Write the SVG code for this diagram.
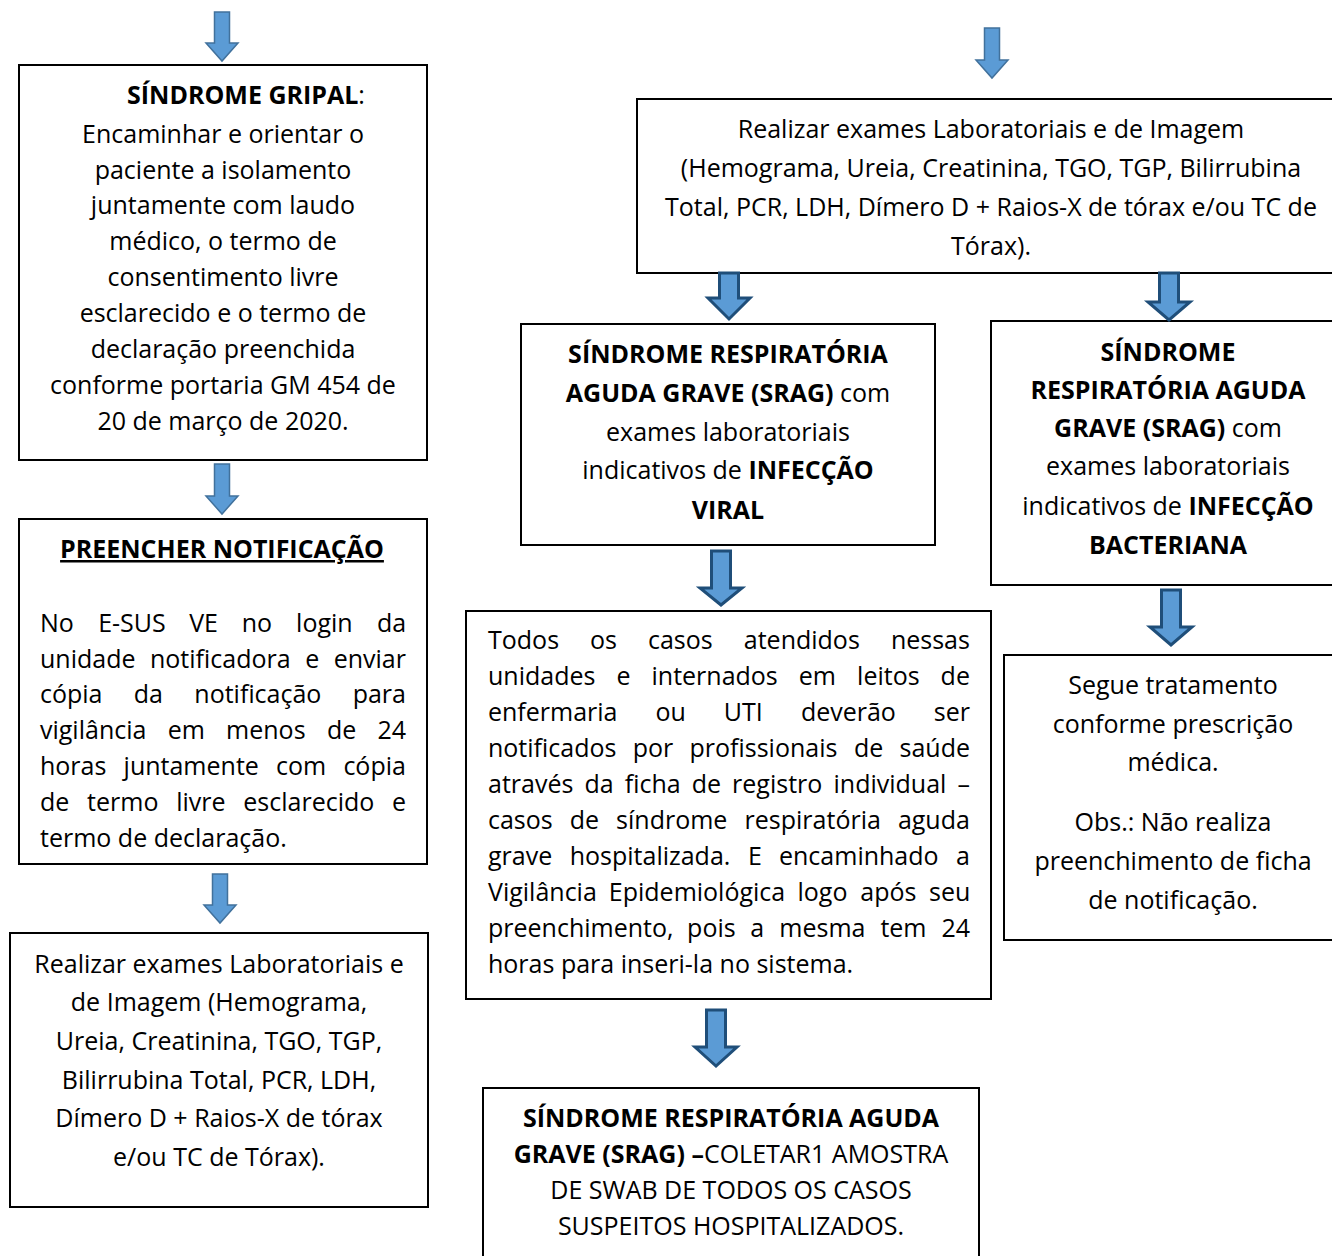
<svg xmlns="http://www.w3.org/2000/svg" width="1332" height="1256" viewBox="0 0 1332 1256">
<style>
text{font-family:"Open Sans","Liberation Sans",sans-serif;font-size:25px;fill:#000}
.c{text-anchor:middle}
.b{font-weight:bold}
.box{fill:#fff;stroke:#000;stroke-width:2}
.al{fill:#5b9bd5;stroke:#41719c;stroke-width:1.5}
.ad{fill:#5b9bd5;stroke:#1f4e79;stroke-width:3;stroke-linejoin:miter}
</style>
<rect width="1332" height="1256" fill="#fff"/>

<g id="n1">
<rect class="box" x="19" y="65" width="408" height="395"/>
<text class="c" x="246" y="104"><tspan class="b">SÍNDROME GRIPAL</tspan>:</text>
<text class="c" x="223" y="143">Encaminhar e orientar o</text>
<text class="c" x="223" y="179">paciente a isolamento</text>
<text class="c" x="223" y="214">juntamente com laudo</text>
<text class="c" x="223" y="250">médico, o termo de</text>
<text class="c" x="223" y="286">consentimento livre</text>
<text class="c" x="223" y="322">esclarecido e o termo de</text>
<text class="c" x="223" y="358">declaração preenchida</text>
<text class="c" x="223" y="394">conforme portaria GM 454 de</text>
<text class="c" x="223" y="430">20 de março de 2020.</text>
</g>

<g id="n2">
<rect class="box" x="19" y="519" width="408" height="345"/>
<text class="c b" x="222" y="558" text-decoration="underline">PREENCHER NOTIFICAÇÃO</text>
<text y="632"><tspan x="40">No</tspan><tspan x="98.2">E-SUS</tspan><tspan x="189.2">VE</tspan><tspan x="241.7">no</tspan><tspan x="296.1">login</tspan><tspan x="376.9">da</tspan></text>
<text y="668"><tspan x="40">unidade</tspan><tspan x="150">notificadora</tspan><tspan x="305.2">e</tspan><tspan x="333.7">enviar</tspan></text>
<text y="703"><tspan x="40">cópia</tspan><tspan x="133.8">da</tspan><tspan x="194.3">notificação</tspan><tspan x="352.7">para</tspan></text>
<text y="739"><tspan x="40">vigilância</tspan><tspan x="167.7">em</tspan><tspan x="226.1">menos</tspan><tspan x="326.9">de</tspan><tspan x="377.4">24</tspan></text>
<text y="775"><tspan x="40">horas</tspan><tspan x="123.6">juntamente</tspan><tspan x="276">com</tspan><tspan x="343.4">cópia</tspan></text>
<text y="811"><tspan x="40">de</tspan><tspan x="87.1">termo</tspan><tspan x="176.2">livre</tspan><tspan x="243.3">esclarecido</tspan><tspan x="392">e</tspan></text>
<text x="40" y="847">termo de declaração.</text>
</g>

<g id="n3">
<rect class="box" x="10" y="933" width="418" height="274"/>
<text class="c" x="219" y="973">Realizar exames Laboratoriais e</text>
<text class="c" x="219" y="1011">de Imagem (Hemograma,</text>
<text class="c" x="219" y="1050">Ureia, Creatinina, TGO, TGP,</text>
<text class="c" x="219" y="1089">Bilirrubina Total, PCR, LDH,</text>
<text class="c" x="219" y="1127">Dímero D + Raios-X de tórax</text>
<text class="c" x="219" y="1166">e/ou TC de Tórax).</text>
</g>

<g id="n4">
<rect class="box" x="637" y="99" width="705" height="174"/>
<text class="c" x="991" y="138">Realizar exames Laboratoriais e de Imagem</text>
<text class="c" x="991" y="177">(Hemograma, Ureia, Creatinina, TGO, TGP, Bilirrubina</text>
<text class="c" x="991" y="216">Total, PCR, LDH, Dímero D + Raios-X de tórax e/ou TC de</text>
<text class="c" x="991" y="255">Tórax).</text>
</g>

<g id="n5">
<rect class="box" x="521" y="324" width="414" height="221"/>
<text class="c b" x="728" y="363">SÍNDROME RESPIRATÓRIA</text>
<text class="c" x="728" y="402"><tspan class="b">AGUDA GRAVE (SRAG)</tspan> com</text>
<text class="c" x="728" y="441">exames laboratoriais</text>
<text class="c" x="728" y="479">indicativos de <tspan class="b">INFECÇÃO</tspan></text>
<text class="c b" x="728" y="519">VIRAL</text>
</g>

<g id="n6">
<rect class="box" x="991" y="321" width="350" height="264"/>
<text class="c b" x="1168" y="361">SÍNDROME</text>
<text class="c b" x="1168" y="399">RESPIRATÓRIA AGUDA</text>
<text class="c" x="1168" y="437"><tspan class="b">GRAVE (SRAG)</tspan> com</text>
<text class="c" x="1168" y="475">exames laboratoriais</text>
<text class="c" x="1168" y="515">indicativos de <tspan class="b">INFECÇÃO</tspan></text>
<text class="c b" x="1168" y="554">BACTERIANA</text>
</g>

<g id="n7">
<rect class="box" x="466" y="611" width="525" height="388"/>
<text y="649"><tspan x="488">Todos</tspan><tspan x="589.9">os</tspan><tspan x="648">casos</tspan><tspan x="743.8">atendidos</tspan><tspan x="890.9">nessas</tspan></text>
<text y="685"><tspan x="488">unidades</tspan><tspan x="616.5">e</tspan><tspan x="651.5">internados</tspan><tspan x="798.8">em</tspan><tspan x="857.1">leitos</tspan><tspan x="940.6">de</tspan></text>
<text y="721"><tspan x="488">enfermaria</tspan><tspan x="655.4">ou</tspan><tspan x="723.7">UTI</tspan><tspan x="800.9">deverão</tspan><tspan x="933.8">ser</tspan></text>
<text y="757"><tspan x="488">notificados</tspan><tspan x="632.7">por</tspan><tspan x="689.5">profissionais</tspan><tspan x="854">de</tspan><tspan x="899.5">saúde</tspan></text>
<text y="793"><tspan x="488">através</tspan><tspan x="584.4">da</tspan><tspan x="624.7">ficha</tspan><tspan x="691.7">de</tspan><tspan x="732.1">registro</tspan><tspan x="833.5">individual</tspan><tspan x="957.6">–</tspan></text>
<text y="829"><tspan x="488">casos</tspan><tspan x="569.8">de</tspan><tspan x="616.1">síndrome</tspan><tspan x="744.6">respiratória</tspan><tspan x="897.9">aguda</tspan></text>
<text y="865"><tspan x="488">grave</tspan><tspan x="569.7">hospitalizada.</tspan><tspan x="748">E</tspan><tspan x="779">encaminhado</tspan><tspan x="956">a</tspan></text>
<text y="901"><tspan x="488">Vigilância</tspan><tspan x="608.8">Epidemiológica</tspan><tspan x="797.5">logo</tspan><tspan x="860.3">após</tspan><tspan x="929">seu</tspan></text>
<text y="937"><tspan x="488">preenchimento,</tspan><tspan x="687.1">pois</tspan><tspan x="750.2">a</tspan><tspan x="779.3">mesma</tspan><tspan x="880.4">tem</tspan><tspan x="941.4">24</tspan></text>
<text x="488" y="973">horas para inseri-la no sistema.</text>
</g>

<g id="n8">
<rect class="box" x="1004" y="655" width="337" height="285"/>
<text class="c" x="1173" y="694">Segue tratamento</text>
<text class="c" x="1173" y="733">conforme prescrição</text>
<text class="c" x="1173" y="771">médica.</text>
<text class="c" x="1173" y="831">Obs.: Não realiza</text>
<text class="c" x="1173" y="870">preenchimento de ficha</text>
<text class="c" x="1173" y="909">de notificação.</text>
</g>

<g id="n9">
<rect class="box" x="483" y="1088" width="496" height="180"/>
<text class="c b" x="731" y="1127">SÍNDROME RESPIRATÓRIA AGUDA</text>
<text class="c" x="731" y="1163"><tspan class="b">GRAVE (SRAG) –</tspan>COLETAR1 AMOSTRA</text>
<text class="c" x="731" y="1199">DE SWAB DE TODOS OS CASOS</text>
<text class="c" x="731" y="1235">SUSPEITOS HOSPITALIZADOS.</text>
</g>

<g id="connectors">
<path class="al" d="M214.5 12H229.5V43H238L222 61L206 43H214.5Z"/>
<path class="al" d="M214.5 464H229.5V496H238L222 514L206 496H214.5Z"/>
<path class="al" d="M212.5 874H227.5V905H236L220 923L204 905H212.5Z"/>
<path class="al" d="M984.5 28H999.5V60H1008L992 78L976 60H984.5Z"/>
<path class="ad" d="M719.5 273H738.5V298H750L729 319L708 298H719.5Z"/>
<path class="ad" d="M1159.5 273H1178.5V302H1190L1169 320L1148 302H1159.5Z"/>
<path class="ad" d="M711.5 551H730.5V588H742L721 605L700 588H711.5Z"/>
<path class="ad" d="M1161.5 590H1180.5V627H1192L1171 645L1150 627H1161.5Z"/>
<path class="ad" d="M706.5 1010H725.5V1047H737L716 1066L695 1047H706.5Z"/>
</g>
</svg>
